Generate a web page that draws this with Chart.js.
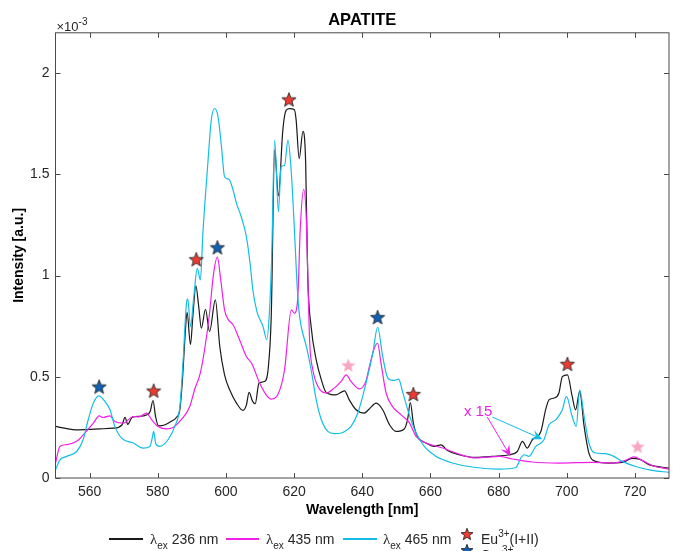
<!DOCTYPE html>
<html>
<head>
<meta charset="utf-8">
<script src="https://cdn.jsdelivr.net/npm/chart.js@4.4.0/dist/chart.umd.min.js"></script>
<style>
html, body { margin: 0; padding: 0; background: #fff; overflow: hidden; }
#wrap { position: relative; width: 678px; height: 551px; overflow: hidden; }
#legend .txt { position: absolute; top: 532px; font: 14px "Liberation Sans", Arial, sans-serif; color: #262626; white-space: nowrap; line-height: 14px; }
#legend .sw { position: absolute; display: block; top: 538px; height: 2px; }
#legend canvas { position: absolute; }
.lam { font-family: "Liberation Serif", serif; font-size: 15px; }
.sub { font-size: 10px; position: relative; top: 5px; }
.sup { font-size: 10px; position: relative; top: -7px; }
</style>
</head>
<body>
<div id="wrap">
  <canvas id="chart" width="678" height="551"></canvas>
  <div id="legend">
    <span class="sw" style="left:109px;width:34px;background:#1a1a1a;height:1.5px"></span>
    <span class="txt" style="left:150px"><span class="lam">λ</span><span class="sub">ex</span> 236 nm</span>
    <span class="sw" style="left:226px;width:33px;background:#f020e8"></span>
    <span class="txt" style="left:266px"><span class="lam">λ</span><span class="sub">ex</span> 435 nm</span>
    <span class="sw" style="left:343px;width:34px;background:#12bde6"></span>
    <span class="txt" style="left:383px"><span class="lam">λ</span><span class="sub">ex</span> 465 nm</span>
    <canvas id="legStarEu" width="16" height="16" style="left:459px;top:526px"></canvas>
    <span class="txt" style="left:481px">Eu<span class="sup">3+</span>(I+II)</span>
    <canvas id="legStarSm" width="16" height="16" style="left:459px;top:542px"></canvas>
    <span class="txt" style="left:481px;top:548px">Sm<span class="sup">3+</span></span>
  </div>
</div>
<script>
"use strict";

// ---- data (intensity in units of 1e-3) ----
const xTickValues = [560, 580, 600, 620, 640, 660, 680, 700, 720];
const yTickValues = [0, 0.5, 1, 1.5, 2];

const wl236 = [550, 553, 556, 560, 563, 567, 569.5, 570.4, 571.2, 572.5, 575, 576.8, 577.8, 578.6, 579.4, 580.2,
  582, 584, 585.5, 586.5, 587.3, 588, 588.6, 589.6, 590.3, 591.2, 592, 592.8, 594, 595.2, 596.9, 598.2, 599.6,
  601.1, 603.1, 605, 606, 606.8, 607.8, 608.6, 609.7, 611.3, 612.4, 613.3, 614.3, 615.4, 616.7, 617.7, 618.7,
  620.1, 620.6, 621.5, 622.6, 623.4, 624, 625, 626.5, 628, 629.4, 632.3, 634.8, 636.2, 638.2, 640.6, 642, 644.1,
  646, 648, 649.9, 652.3, 653.3, 654.1, 655, 656.2, 658.7, 661.1, 663.1, 665, 668.4, 673.3, 678.2, 683.1, 685.5,
  687, 688.4, 689.9, 692.4, 693.8, 694.8, 696.3, 697.7, 698.7, 700.2, 701.6, 702.6, 703.8, 705.1, 706.5, 708.5,
  712.4, 716.3, 719.2, 721.7, 724.1, 730];
const int236 = [0.255, 0.245, 0.238, 0.240, 0.243, 0.246, 0.262, 0.300, 0.265, 0.300, 0.305, 0.312, 0.330, 0.383, 0.300, 0.258,
  0.262, 0.280, 0.300, 0.340, 0.500, 0.700, 0.818, 0.660, 0.800, 0.950, 0.850, 0.740, 0.834, 0.724, 0.880, 0.650, 0.510,
  0.436, 0.370, 0.334, 0.360, 0.423, 0.380, 0.367, 0.469, 0.477, 0.540, 0.800, 1.620, 1.395, 1.719, 1.818, 1.825,
  1.820, 1.770, 1.578, 1.713, 1.556, 1.000, 0.748, 0.584, 0.485, 0.423, 0.411, 0.431, 0.386, 0.337, 0.321, 0.340, 0.370,
  0.337, 0.263, 0.230, 0.242, 0.288, 0.373, 0.271, 0.205, 0.173, 0.156, 0.164, 0.136, 0.115, 0.102, 0.107, 0.115, 0.131,
  0.181, 0.148, 0.189, 0.230, 0.337, 0.386, 0.395, 0.420, 0.501, 0.510, 0.403, 0.337, 0.428, 0.255, 0.123, 0.082,
  0.074, 0.077, 0.097, 0.090, 0.066, 0.049];

const wl435 = [550, 551.3, 553.3, 556.2, 558.6, 561.1, 562.8, 564, 566, 567.4, 569.9, 572.8, 574.5, 576.7, 578.2, 580.1,
  582.6, 584.5, 586.9, 589.4, 590.8, 592.5, 593.8, 595.2, 596.3, 597.5, 598.4, 599.6, 600.6, 602.1, 604, 606, 607.5,
  609.9, 611.8, 613.3, 615.2, 617.2, 619.2, 620.1, 621.1, 621.8, 622.8, 623.6, 624.1, 624.6, 625.5, 627, 629.4, 631.8,
  633.8, 635.3, 636.7, 639.2, 641.1, 642.1, 643.5, 644.5, 645.5, 647, 648.9, 651.4, 653.8, 655.8, 658.7, 663.6, 668.4,
  673.3, 680.2, 684.1, 689.9, 697.7, 707.5, 713.3, 717.2, 719.7, 722.1, 725, 730];
const int435 = [0.074, 0.156, 0.165, 0.181, 0.222, 0.271, 0.307, 0.299, 0.307, 0.279, 0.271, 0.304, 0.302, 0.321, 0.288, 0.255,
  0.243, 0.250, 0.288, 0.353, 0.436, 0.520, 0.640, 0.814, 1.000, 1.091, 0.990, 0.831, 0.785, 0.757, 0.683, 0.600, 0.568,
  0.469, 0.411, 0.390, 0.411, 0.535, 0.831, 0.814, 0.896, 1.226, 1.426, 1.275, 0.950, 0.666, 0.535, 0.452, 0.420, 0.444,
  0.477, 0.510, 0.477, 0.440, 0.480, 0.551, 0.640, 0.666, 0.568, 0.420, 0.353, 0.312, 0.274, 0.205, 0.173, 0.148, 0.118,
  0.099, 0.107, 0.094, 0.079, 0.074, 0.077, 0.074, 0.087, 0.104, 0.087, 0.062, 0.044];

const wl465 = [550, 551.3, 553.3, 556.2, 558.1, 559.6, 561.1, 562.7, 564.5, 566, 567.4, 569.4, 572.8, 575.7, 577.7, 578.4,
  578.8, 579.4, 580.6, 583, 585, 586.5, 587.4, 588.4, 588.8, 589.6, 590.6, 591.6, 592.5, 593.3, 594.7, 595.7, 596.7,
  597.7, 598.7, 599.6, 600.9, 602.1, 603.1, 604.5, 606, 607.2, 607.9, 609.1, 610.9, 612, 612.8, 613.4, 614.3, 615.4,
  616.2, 617.2, 618.2, 619.2, 620.1, 620.8, 621.4, 622.1, 623.6, 625, 626.5, 628, 629.9, 631.8, 634.3, 636.7, 638.7,
  641.1, 643.1, 644.5, 646, 647.5, 649.4, 650.7, 651.8, 653.8, 655.8, 658.2, 661.6, 666.5, 673.3, 680.2, 685.1, 686.5,
  687.5, 688.9, 690.9, 693.3, 694.8, 696.8, 698.7, 699.9, 701.6, 702.8, 703.8, 705.1, 706.5, 708, 711.4, 713.8, 716.3,
  720.2, 725, 730];
const int465 = [0.041, 0.090, 0.107, 0.131, 0.189, 0.288, 0.370, 0.406, 0.378, 0.337, 0.255, 0.197, 0.173, 0.148, 0.156, 0.200,
  0.230, 0.170, 0.156, 0.189, 0.255, 0.353, 0.568, 0.860, 0.885, 0.748, 0.900, 1.036, 0.979, 1.226, 1.555, 1.769, 1.826,
  1.785, 1.637, 1.489, 1.476, 1.423, 1.357, 1.291, 1.193, 1.044, 0.929, 0.822, 0.748, 0.683, 0.831, 1.078, 1.670, 1.316,
  1.538, 1.545, 1.670, 1.506, 1.226, 0.979, 0.831, 0.748, 0.650, 0.535, 0.386, 0.288, 0.230, 0.219, 0.225, 0.255, 0.321,
  0.469, 0.617, 0.745, 0.600, 0.494, 0.482, 0.489, 0.428, 0.312, 0.222, 0.156, 0.107, 0.074, 0.052, 0.044, 0.052, 0.099,
  0.115, 0.107, 0.156, 0.189, 0.263, 0.288, 0.337, 0.403, 0.304, 0.255, 0.436, 0.304, 0.173, 0.126, 0.120, 0.107, 0.082,
  0.057, 0.038, 0.028];

// star markers
const euStarX = [578.8, 591.3, 618.5, 655.0, 700.2];
const euStarY = [0.432, 1.081, 1.871, 0.415, 0.564];
const smStarX = [562.8, 597.5, 644.5];
const smStarY = [0.452, 1.140, 0.795];
const pinkStarX = [635.9, 720.8];
const pinkStarY = [0.558, 0.156];

// "x 15" annotation: label centre and arrows [x1, y1, x2, y2]
const scaleLabelPos = [674.0, 0.327];
const magentaArrow = [676.7, 0.301, 683.5, 0.107];
const cyanArrow = [678.2, 0.301, 692.8, 0.192];

const pts = (xs, ys) => xs.map((v, i) => ({ x: v, y: ys[i] }));

function drawStar(ctx, cx, cy, r, fill, stroke) {
  ctx.beginPath();
  for (let i = 0; i < 10; i++) {
    const rad = i % 2 === 0 ? r : r * 0.42;
    const a = -Math.PI / 2 + i * Math.PI / 5;
    ctx.lineTo(cx + rad * Math.cos(a), cy + rad * Math.sin(a));
  }
  ctx.closePath();
  ctx.fillStyle = fill;
  ctx.fill();
  if (stroke) {
    ctx.strokeStyle = stroke;
    ctx.lineWidth = 0.9;
    ctx.stroke();
  }
}

function starImage(fill, stroke, r) {
  const c = document.createElement("canvas");
  const s = Math.ceil(r * 2 + 3);
  c.width = s;
  c.height = s;
  drawStar(c.getContext("2d"), s / 2, s / 2 + r * 0.1, r, fill, stroke);
  return c;
}

const RED = "#ee3a30", BLUE = "#0f62b8", PINK = "#f9a6c2";

drawStar(document.getElementById("legStarEu").getContext("2d"), 8, 8.6, 6.3, RED, "#2a2a2a");
drawStar(document.getElementById("legStarSm").getContext("2d"), 8, 8.6, 6.3, BLUE, "#2a2a2a");

function arrow(ctx, x1, y1, x2, y2, color) {
  const ang = Math.atan2(y2 - y1, x2 - x1);
  const c = Math.cos(ang), s = Math.sin(ang);
  const hl = 11, hw = 5;
  ctx.strokeStyle = color;
  ctx.fillStyle = color;
  ctx.lineWidth = 1;
  ctx.beginPath();
  ctx.moveTo(x1, y1);
  ctx.lineTo(x2 - hl * 0.6 * c, y2 - hl * 0.6 * s);
  ctx.stroke();
  ctx.beginPath();
  ctx.moveTo(x2, y2);
  ctx.lineTo(x2 - hl * c + hw * s, y2 - hl * s - hw * c);
  ctx.lineTo(x2 - hl * 0.6 * c, y2 - hl * 0.6 * s);
  ctx.lineTo(x2 - hl * c - hw * s, y2 - hl * s + hw * c);
  ctx.closePath();
  ctx.fill();
}

const framePlugin = {
  id: "frame",
  afterDatasetsDraw(chart) {
    const { ctx, scales: { x, y } } = chart;
    ctx.save();
    // annotation
    ctx.font = '15px "Liberation Sans", Arial, sans-serif';
    ctx.fillStyle = "#ee22e6";
    ctx.textAlign = "center";
    ctx.textBaseline = "middle";
    ctx.fillText("x 15", x.getPixelForValue(scaleLabelPos[0]), y.getPixelForValue(scaleLabelPos[1]));
    arrow(ctx, x.getPixelForValue(magentaArrow[0]), y.getPixelForValue(magentaArrow[1]),
      x.getPixelForValue(magentaArrow[2]), y.getPixelForValue(magentaArrow[3]), "#ee22e6");
    arrow(ctx, x.getPixelForValue(cyanArrow[0]), y.getPixelForValue(cyanArrow[1]),
      x.getPixelForValue(cyanArrow[2]), y.getPixelForValue(cyanArrow[3]), "#12bde6");
    ctx.restore();
  },
  afterDraw(chart) {
    const { ctx, chartArea: a, scales: { x, y } } = chart;
    ctx.save();
    ctx.strokeStyle = "#4a4a4a";
    ctx.lineWidth = 1;
    ctx.strokeRect(a.left, a.top, a.right - a.left, a.bottom - a.top);
    ctx.beginPath();
    xTickValues.forEach((v) => {
      const px = Math.round(x.getPixelForValue(v)) + 0.5;
      ctx.moveTo(px, a.bottom);
      ctx.lineTo(px, a.bottom - 5);
      ctx.moveTo(px, a.top);
      ctx.lineTo(px, a.top + 5);
    });
    yTickValues.forEach((v) => {
      const py = Math.round(y.getPixelForValue(v)) + 0.5;
      ctx.moveTo(a.left, py);
      ctx.lineTo(a.left + 5, py);
      ctx.moveTo(a.right, py);
      ctx.lineTo(a.right - 5, py);
    });
    ctx.stroke();
    // exponent label
    ctx.fillStyle = "#262626";
    ctx.textAlign = "left";
    ctx.textBaseline = "alphabetic";
    ctx.font = '13px "Liberation Sans", Arial, sans-serif';
    ctx.fillText("\u00d710", a.left + 1, a.top - 2);
    const w = ctx.measureText("\u00d710").width;
    ctx.font = '10px "Liberation Sans", Arial, sans-serif';
    ctx.fillText("-3", a.left + 1 + w, a.top - 8);
    ctx.restore();
  }
};

const tickFont = { family: '"Liberation Sans", Arial, sans-serif', size: 14 };
const titleFont = { family: '"Liberation Sans", Arial, sans-serif', size: 14, weight: "bold" };

const lineDs = (label, xs, ys, color, order) => ({
  label,
  data: pts(xs, ys),
  borderColor: color,
  borderWidth: 1.2,
  pointRadius: 0,
  fill: false,
  cubicInterpolationMode: "monotone",
  order
});

const starDs = (label, xs, ys, img) => ({
  type: "scatter",
  label,
  data: pts(xs, ys),
  pointStyle: img,
  pointRadius: 8,
  showLine: false,
  order: 0
});

new Chart(document.getElementById("chart").getContext("2d"), {
  type: "line",
  data: {
    datasets: [
      lineDs("236 nm", wl236, int236, "#1a1a1a", 3),
      lineDs("435 nm", wl435, int435, "#f020e8", 2),
      lineDs("465 nm", wl465, int465, "#12bde6", 1),
      starDs("Eu", euStarX, euStarY, starImage(RED, "#2a2a2a", 7.5)),
      starDs("Sm", smStarX, smStarY, starImage(BLUE, "#2a2a2a", 7.5)),
      starDs("pink", pinkStarX, pinkStarY, starImage(PINK, null, 7.5))
    ]
  },
  options: {
    responsive: false,
    animation: false,
    events: [],
    layout: { padding: { left: 0, right: 8, top: 0, bottom: 0 } },
    plugins: {
      legend: { display: false },
      tooltip: { enabled: false },
      title: {
        display: true,
        text: "APATITE",
        fullSize: false,
        color: "#000",
        font: { family: '"Liberation Sans", Arial, sans-serif', size: 16.5, weight: "bold" },
        padding: { top: 11, bottom: 2 }
      }
    },
    scales: {
      x: {
        type: "linear",
        min: 550,
        max: 730,
        afterBuildTicks: (s) => { s.ticks = xTickValues.map((v) => ({ value: v })); },
        afterFit: (s) => { s.height = 73; },
        grid: { display: false, drawTicks: false },
        border: { display: false },
        ticks: { padding: 6, font: tickFont, color: "#262626", maxRotation: 0 },
        title: { display: true, text: "Wavelength [nm]", font: titleFont, color: "#000", padding: { top: 0, bottom: 32 } }
      },
      y: {
        type: "linear",
        min: 0,
        max: 2.2,
        afterBuildTicks: (s) => { s.ticks = yTickValues.map((v) => ({ value: v })); },
        afterFit: (s) => { s.width = 55.5; },
        grid: { display: false, drawTicks: false },
        border: { display: false },
        ticks: { padding: 6, font: tickFont, color: "#262626", callback: (v) => String(v) },
        title: { display: true, text: "Intensity [a.u.]", font: titleFont, color: "#000", padding: { top: 11, bottom: 0 } }
      }
    }
  },
  plugins: [framePlugin]
});
</script>
</body>
</html>
